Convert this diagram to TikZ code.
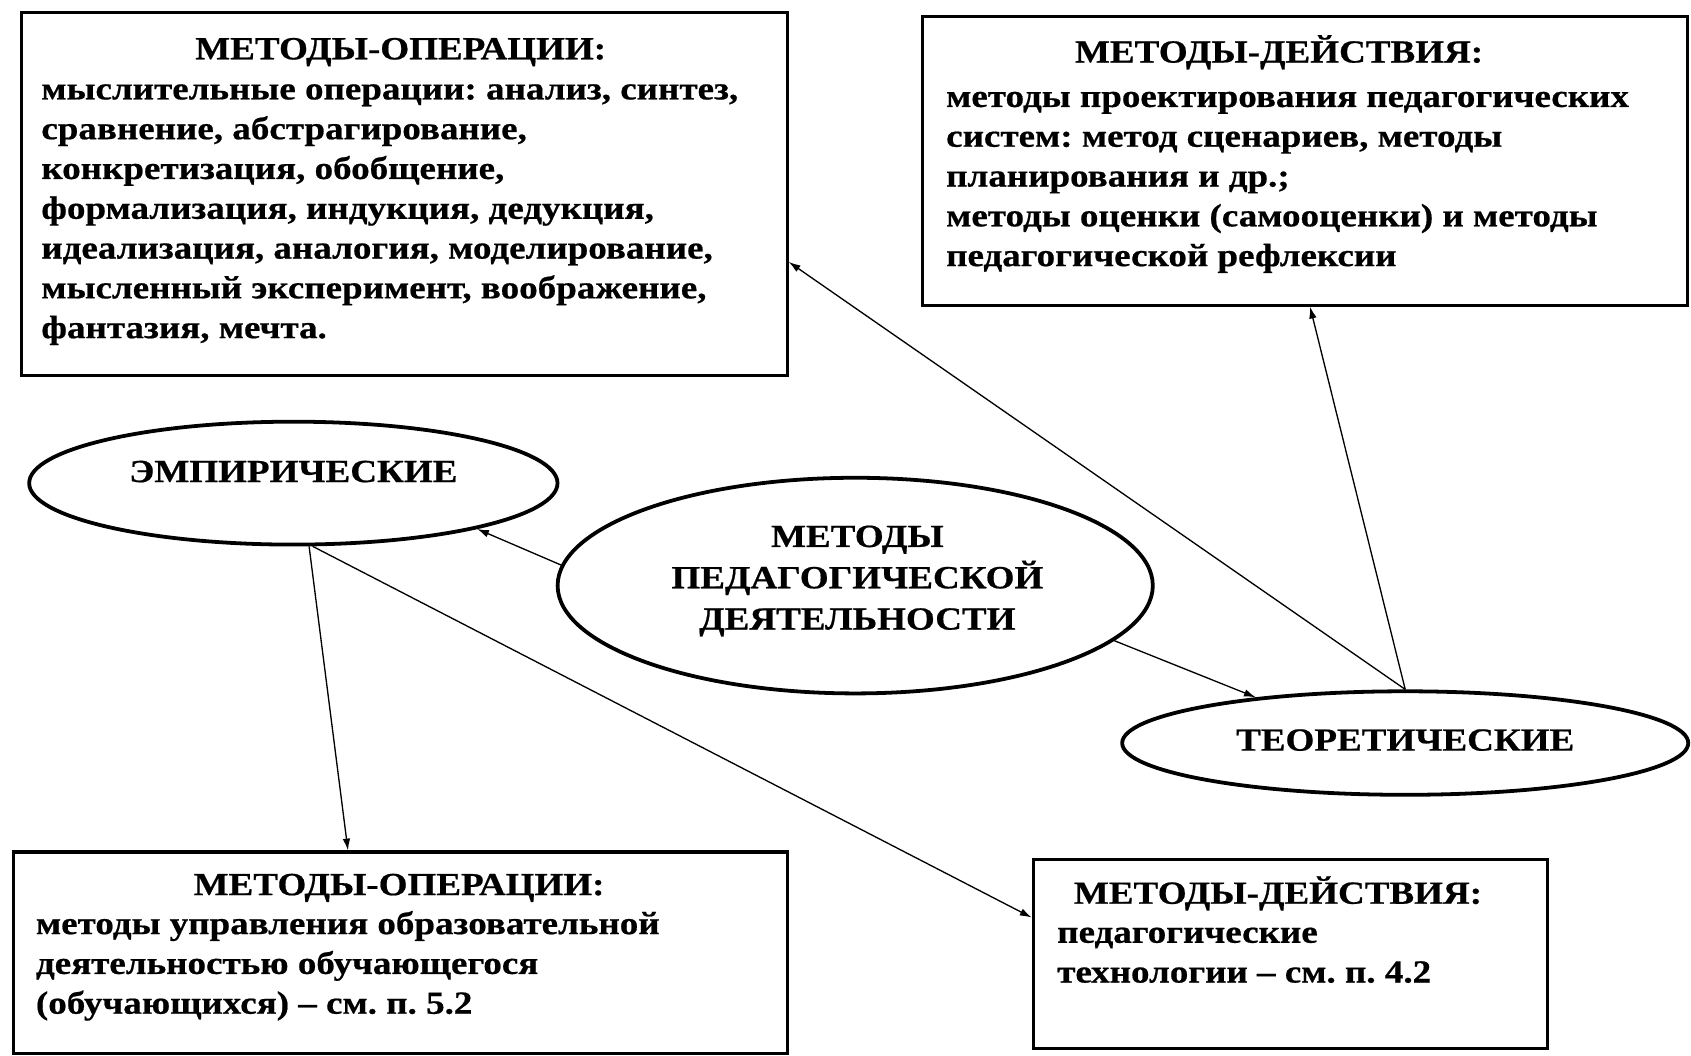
\documentclass[tikz,border=0pt]{standalone}
\usepackage{fontspec}
\setmainfont{Liberation Serif}[FakeStretch=1.15,BoldFeatures={FakeBold=0.6}]
\usetikzlibrary{shapes.geometric,arrows.meta}
\newcommand{\bodyfnt}{\fontsize{17}{21}\selectfont\bfseries}
\newcommand{\ctrfnt}{\fontsize{17}{21.8}\selectfont\bfseries}
\frenchspacing
\tikzset{
  box/.style={draw, line width=1.6pt, rectangle, inner sep=0pt},
  oval/.style={draw, line width=2pt, ellipse, inner sep=0pt},
  title/.style={anchor=base, inner sep=0pt, font=\bodyfnt},
  bodytext/.style={anchor=north west, inner sep=0pt, align=left, font=\bodyfnt},
  ovaltext/.style={anchor=base, inner sep=0pt, font=\bodyfnt},
  arr/.style={line width=0.7pt, -{Latex[length=0.22cm,width=0.14cm]}}
}
\begin{document}
\begin{tikzpicture}[x=0.02cm,y=-0.02cm]
\useasboundingbox (0,0) rectangle (1568,979);
\fill[white] (0,0) rectangle (1568,979);
% boxes
\node[box, minimum width=14.2cm, minimum height=6.72cm] (tl) at (375,180) {};
\node[box, minimum width=14.2cm, minimum height=5.36cm] (tr) at (1210,149) {};
\node[box, minimum width=14.36cm, minimum height=3.74cm] (bl) at (371,883.5) {};
\node[box, minimum width=9.54cm, minimum height=3.5cm] (br) at (1196.5,884.5) {};
% ellipses
\node[oval, minimum width=9.8cm, minimum height=2.28cm] (emp) at (272,448) {};
\node[oval, minimum width=11.04cm, minimum height=4cm] (ctr) at (793,543) {};
\node[oval, minimum width=10.5cm, minimum height=1.92cm] (teor) at (1303,689) {};
% box texts
\node[title] (tlt) at (371.5,55) {МЕТОДЫ-ОПЕРАЦИИ:};
\node[bodytext] (tlb) at (38,66) {\strut мыслительные операции: анализ, синтез,\\
\strut сравнение, абстрагирование,\\
\strut конкретизация, обобщение,\\
\strut формализация, индукция, дедукция,\\
\strut идеализация, аналогия, моделирование,\\
\strut мысленный эксперимент, воображение,\\
\strut фантазия, мечта.};
\node[title] (trt) at (1186,58) {МЕТОДЫ-ДЕЙСТВИЯ:};
\node[bodytext] (trb) at (877,73) {\strut методы проектирования педагогических\\
\strut систем: метод сценариев, методы\\
\strut планирования и др.;\\
\strut методы оценки (самооценки) и методы\\
\strut педагогической рефлексии};
\node[title] (blt) at (370,830) {МЕТОДЫ-ОПЕРАЦИИ:};
\node[bodytext] (blb) at (33,840) {\strut методы управления образовательной\\
\strut деятельностью обучающегося\\
\strut (обучающихся) – см. п. 5.2};
\node[title] (brt) at (1185,838) {МЕТОДЫ-ДЕЙСТВИЯ:};
\node[bodytext] (brb) at (980,848) {\strut педагогические\\
\strut технологии – см. п. 4.2};
% ellipse texts
\node[ovaltext] (empt) at (272,447) {ЭМПИРИЧЕСКИЕ};
\node[anchor=north, inner sep=0pt, align=center, font=\ctrfnt] (ctrt) at (795,480) {\strut МЕТОДЫ\\ \strut ПЕДАГОГИЧЕСКОЙ\\ \strut ДЕЯТЕЛЬНОСТИ};
\node[ovaltext] (teort) at (1303,696) {ТЕОРЕТИЧЕСКИЕ};
% connectors
\draw[arr] (ctr.176.6) -- (emp.-14);
\draw[arr] (ctr.-12.4) -- (teor.163.4);
\draw[arr] (emp.-76) -- (bl.117.7);
\draw[arr] (emp.-73) -- (br.172.2);
\draw[arr] (teor.north) -- (tl.-10.06);
\draw[arr] (teor.north) -- (tr.-88.7);
\end{tikzpicture}
\end{document}
